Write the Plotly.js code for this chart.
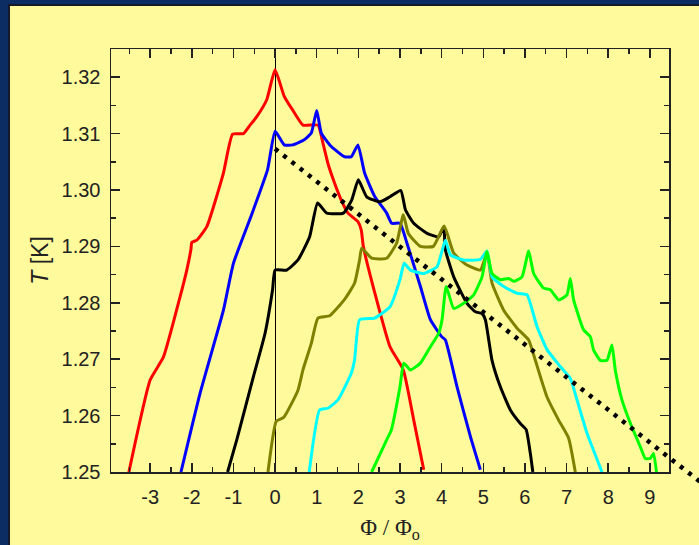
<!DOCTYPE html>
<html><head><meta charset="utf-8">
<script src="https://cdn.plot.ly/plotly-3.0.1.min.js"></script>
<style>
html,body{margin:0;padding:0;background:#0b2d63;overflow:hidden;}
#frame{position:absolute;left:8px;top:4px;width:691px;height:541px;box-sizing:border-box;background:#FFFA9B;border-left:2px solid #15192a;border-top:2px solid #15192a;}
#chart{position:absolute;left:0;top:0;width:699px;height:545px;}
</style></head><body>
<div id="frame"></div><div id="chart"></div>
<script>
// ---- data ----
const redX = [-3.51, -3.0, -2.68, -2.28, -2.12, -2.02, -2.0, -1.88, -1.64, -1.24, -1.02, -0.76, -0.6, -0.44, -0.2, 0.0, 0.22, 0.42, 0.67, 1.03, 1.15, 1.27, 1.43, 1.59, 1.75, 1.99, 2.07, 2.12, 2.44, 2.76, 3.08, 3.33, 3.57];
const redY = [1.25, 1.2663, 1.2704, 1.2811, 1.2858, 1.2895, 1.2907, 1.2911, 1.2935, 1.303, 1.3099, 1.31, 1.3115, 1.313, 1.316, 1.3213, 1.3166, 1.3142, 1.3115, 1.3115, 1.3083, 1.3047, 1.3012, 1.2982, 1.2959, 1.2944, 1.2929, 1.29, 1.2805, 1.2722, 1.2681, 1.2592, 1.2504];

const blueX = [-2.26, -1.8, -1.24, -1.0, -0.58, -0.18, 0.0, 0.22, 0.42, 0.7, 0.87, 1.0, 1.11, 1.35, 1.67, 1.83, 1.99, 2.15, 2.39, 2.68, 2.8, 3.0, 3.17, 3.49, 3.73, 4.0, 4.09, 4.37, 4.69, 4.93];
const blueY = [1.25, 1.264, 1.2787, 1.287, 1.2953, 1.3036, 1.3104, 1.308, 1.308, 1.3089, 1.3101, 1.3141, 1.3101, 1.3077, 1.3059, 1.3059, 1.308, 1.303, 1.2989, 1.2959, 1.2941, 1.2941, 1.2905, 1.2829, 1.277, 1.274, 1.2734, 1.2651, 1.2563, 1.2504];

const blackX = [-1.14, -0.92, -0.52, -0.24, -0.06, 0.0, 0.28, 0.55, 0.83, 1.02, 1.24, 1.64, 1.84, 2.0, 2.2, 2.52, 2.76, 3.02, 3.13, 3.33, 3.65, 3.93, 4.05, 4.09, 4.29, 4.61, 4.81, 4.97, 5.05, 5.21, 5.41, 5.65, 5.89, 6.03, 6.13, 6.19];
const blackY = [1.25, 1.2557, 1.2669, 1.2746, 1.2823, 1.2858, 1.2858, 1.2876, 1.2917, 1.2977, 1.2959, 1.2959, 1.2982, 1.3018, 1.2988, 1.2979, 1.2988, 1.2999, 1.2965, 1.2941, 1.2923, 1.2917, 1.2935, 1.2894, 1.2846, 1.2799, 1.2784, 1.2781, 1.277, 1.2698, 1.2651, 1.261, 1.2586, 1.2575, 1.2533, 1.25];

const oliveX = [-0.17, 0.03, 0.21, 0.55, 0.67, 0.87, 1.03, 1.31, 1.67, 1.91, 2.03, 2.08, 2.32, 2.68, 2.92, 3.08, 3.2, 3.49, 3.8, 4.06, 4.29, 4.61, 4.93, 5.09, 5.21, 5.49, 5.81, 6.09, 6.25, 6.53, 6.81, 7.05, 7.21];
const oliveY = [1.25, 1.259, 1.2597, 1.2645, 1.2681, 1.2728, 1.2773, 1.2777, 1.2806, 1.2835, 1.2876, 1.2897, 1.2879, 1.2879, 1.2906, 1.2956, 1.2923, 1.29, 1.29, 1.2936, 1.2888, 1.2867, 1.2858, 1.2888, 1.2835, 1.2787, 1.2755, 1.2734, 1.2698, 1.2633, 1.2592, 1.256, 1.25];

const cyanX = [0.82, 1.07, 1.27, 1.51, 1.83, 1.91, 2.03, 2.39, 2.76, 3.0, 3.1, 3.25, 3.57, 3.89, 4.09, 4.21, 4.53, 4.93, 5.09, 5.21, 5.49, 5.81, 6.05, 6.13, 6.29, 6.53, 6.85, 7.09, 7.25, 7.49, 7.85];
const cyanY = [1.25, 1.261, 1.2613, 1.2628, 1.2675, 1.2699, 1.277, 1.2773, 1.2793, 1.2841, 1.287, 1.2858, 1.2852, 1.2864, 1.2911, 1.2885, 1.2876, 1.2877, 1.2892, 1.2846, 1.2829, 1.2817, 1.2814, 1.2799, 1.2758, 1.2717, 1.2687, 1.2666, 1.2628, 1.2569, 1.25];

const greenX = [2.32, 2.68, 2.79, 3.0, 3.09, 3.25, 3.49, 3.73, 3.93, 4.01, 4.11, 4.29, 4.53, 4.77, 4.97, 5.09, 5.21, 5.41, 5.61, 5.73, 5.93, 6.09, 6.21, 6.45, 6.61, 6.81, 7.01, 7.09, 7.17, 7.41, 7.57, 7.65, 7.81, 7.97, 8.09, 8.17, 8.33, 8.53, 8.77, 8.89, 9.01, 9.09, 9.17];
const greenY = [1.25, 1.2557, 1.2574, 1.2651, 1.2693, 1.2681, 1.2693, 1.2722, 1.2746, 1.277, 1.2829, 1.279, 1.2799, 1.2814, 1.2846, 1.2891, 1.2852, 1.2841, 1.2843, 1.2838, 1.2846, 1.2892, 1.2852, 1.2826, 1.2823, 1.2805, 1.2814, 1.2843, 1.2805, 1.2752, 1.274, 1.2716, 1.2698, 1.2698, 1.2725, 1.2681, 1.2628, 1.2587, 1.2545, 1.2524, 1.2524, 1.2533, 1.2493];

const fitX = [0.0, 10.2];
const fitY = [1.3073, 1.2483];

const xTickVals = [-3, -2, -1, 0, 1, 2, 3, 4, 5, 6, 7, 8, 9];
const xRange = [-3.94, 9.46];
const yRange = [1.25, 1.325];

// ---- layout geometry ----
const W = 699, H = 545;
const M = {l: 100, r: 0, t: 40, b: 60};
const P = {left: 111, right: 669, top: 49, bottom: 472};
const pw = W - M.l - M.r, ph = H - M.t - M.b;
const xDom = [(P.left - M.l) / pw, (P.right - M.l) / pw];
const yDom = [(H - M.b - P.bottom) / ph, (H - M.b - P.top) / ph];
const kx = (xRange[1] - xRange[0]) / (P.right - P.left);
const ky = (yRange[1] - yRange[0]) / (P.bottom - P.top);
const x2Range = [xRange[0] - (P.left - M.l) * kx, xRange[1] + (W - M.r - P.right) * kx];
const y2Range = [yRange[0] - (H - M.b - P.bottom) * ky, yRange[1] + (P.top - M.t) * ky];

function curve(x, y, color) {
  return {x: x, y: y, type: 'scatter', mode: 'lines',
          line: {color: color, width: 3, shape: 'spline', smoothing: 0.45}, hoverinfo: 'skip'};
}
const traces = [
  curve(redX, redY, '#ff0000'),
  curve(blueX, blueY, '#0000ff'),
  curve(blackX, blackY, '#000000'),
  curve(oliveX, oliveY, '#7f7f00'),
  curve(cyanX, cyanY, '#00ffff'),
  curve(greenX, greenY, '#00ff00'),
  {x: fitX, y: fitY, type: 'scatter', mode: 'lines', xaxis: 'x2', yaxis: 'y2',
   line: {color: '#000', width: 4.5, dash: '4px,6.5px'}, hoverinfo: 'skip'}
];

const axisCommon = {
  ticks: 'inside', ticklen: 9, tickwidth: 1.5, tickcolor: '#222',
  showline: true, linecolor: '#222', linewidth: 1.5, mirror: 'ticks',
  showgrid: false, tickfont: {family: 'Liberation Sans, Arial, sans-serif', size: 20, color: '#222'},
  ticklabelstandoff: 6
};

const layout = {
  width: W, height: H, margin: M,
  paper_bgcolor: 'rgba(0,0,0,0)', plot_bgcolor: 'rgba(0,0,0,0)',
  showlegend: false,
  xaxis: Object.assign({}, axisCommon, {
    domain: xDom, range: xRange, tickmode: 'array', tickvals: xTickVals,
    ticktext: xTickVals.map(String),
    minor: {ticks: 'inside', dtick: 0.5, tick0: 0, ticklen: 5, tickwidth: 1.5, tickcolor: '#222', showgrid: false},
    zeroline: true, zerolinecolor: '#000', zerolinewidth: 1,
    title: {text: 'Φ / Φ<sub>o</sub>', font: {family: 'Liberation Serif, Times New Roman, serif', size: 23, color: '#222'}, standoff: 12}
  }),
  yaxis: Object.assign({}, axisCommon, {
    domain: yDom, range: yRange, tickmode: 'linear', tick0: 1.25, dtick: 0.01, tickformat: '.2f',
    ticklabelstandoff: 5,
    minor: {ticks: 'inside', dtick: 0.005, tick0: 1.25, ticklen: 5, tickwidth: 1.5, tickcolor: '#222', showgrid: false},
    zeroline: false,
    title: {text: '<i>T</i> [K]', font: {family: 'Liberation Sans, Arial, sans-serif', size: 23, color: '#222'}, standoff: 6}
  }),
  xaxis2: {domain: [0, 1], range: x2Range, anchor: 'y2', visible: false, fixedrange: true},
  yaxis2: {domain: [0, 1], range: y2Range, anchor: 'x2', visible: false, fixedrange: true}
};

Plotly.newPlot('chart', traces, layout, {staticPlot: true, displayModeBar: false});
</script></body></html>
